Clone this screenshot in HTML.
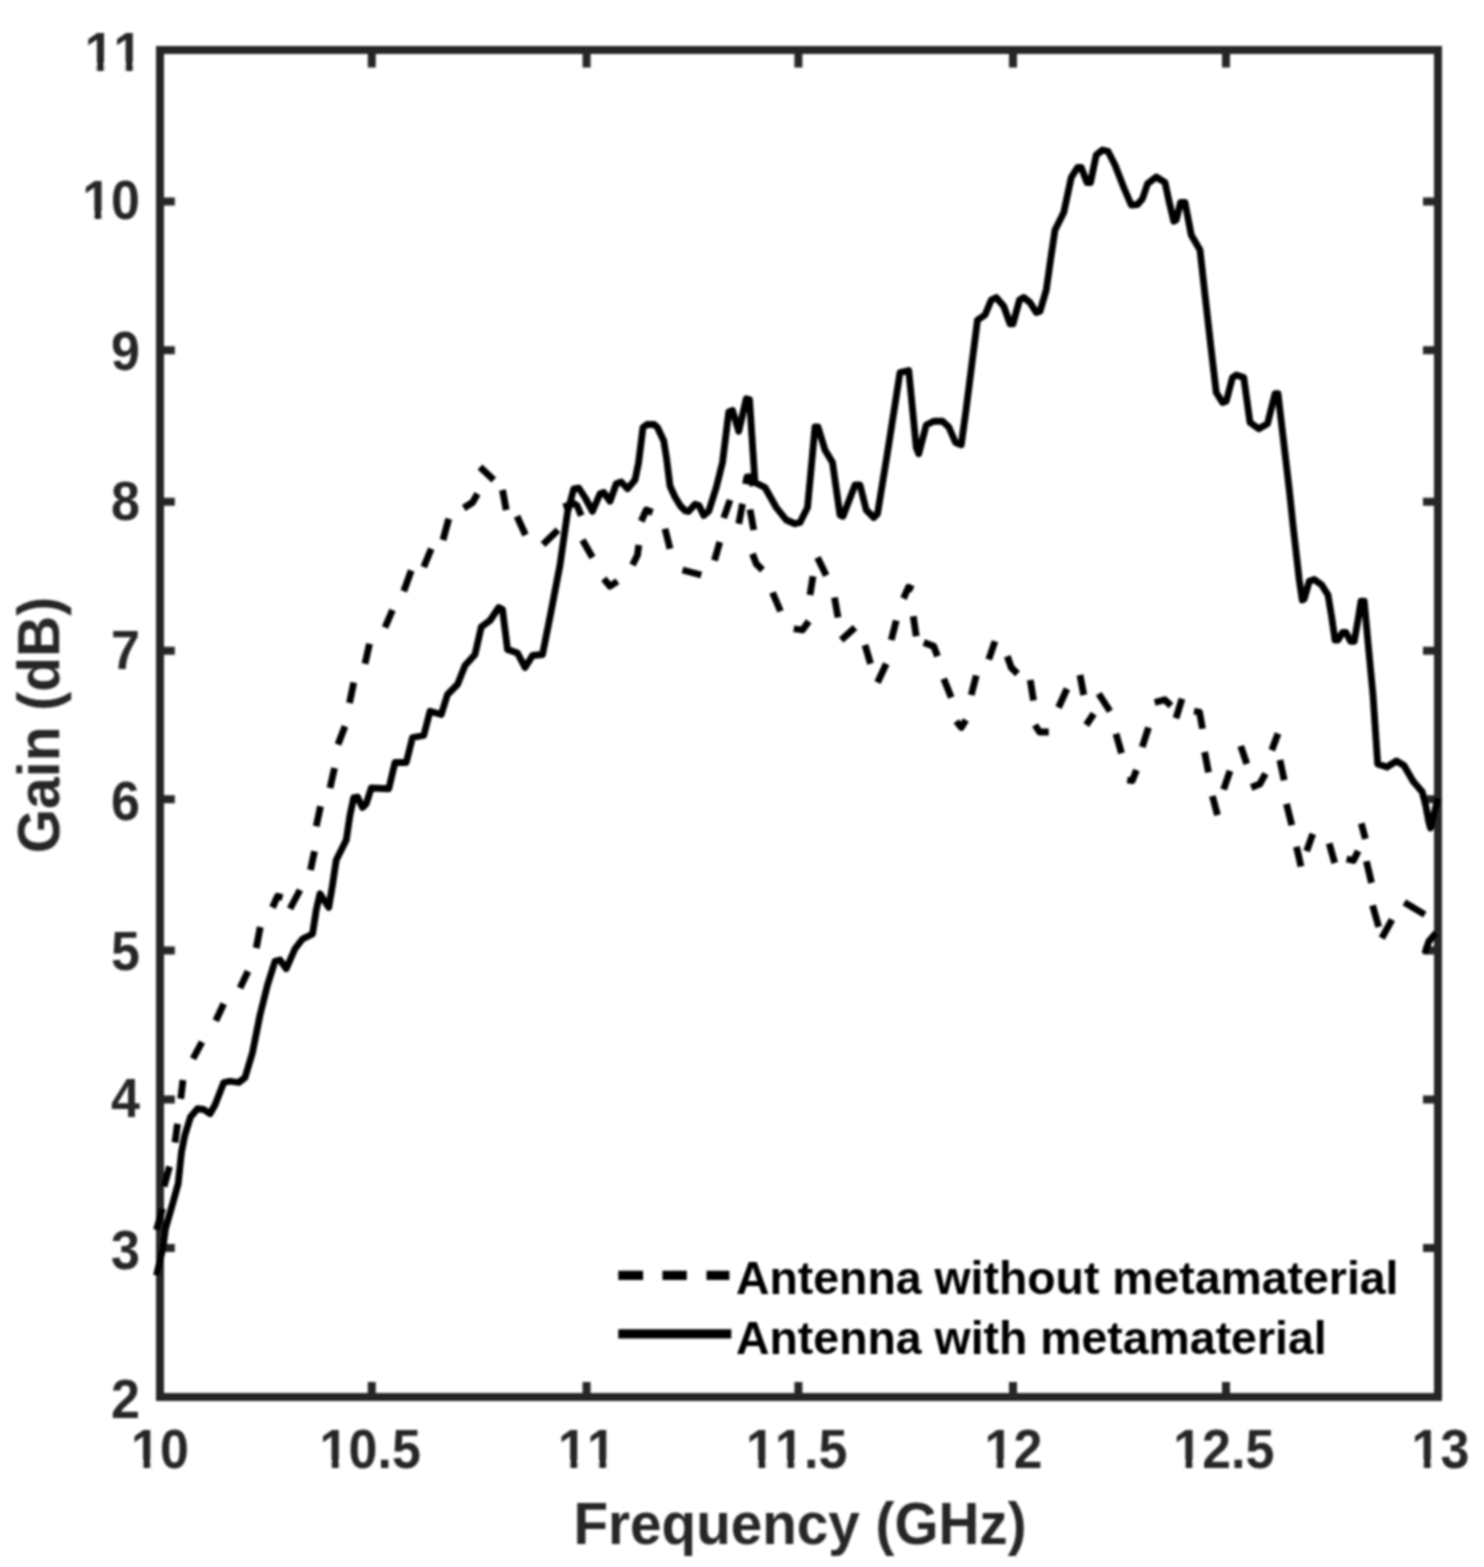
<!DOCTYPE html>
<html><head><meta charset="utf-8"><title>Gain vs Frequency</title>
<style>
html,body{margin:0;padding:0;background:#fff;}
body{width:1484px;height:1567px;overflow:hidden;}
svg{display:block;}
text{font-family:"Liberation Sans",sans-serif;font-weight:bold;font-kerning:none;}
.tk{font-size:52px;fill:#262626;}
.lb{font-size:57px;fill:#262626;}
.lg{font-size:46px;fill:#000;}
</style></head><body>
<svg width="1484" height="1567" viewBox="0 0 1484 1567">
<defs><filter id="soft" x="0" y="0" width="1484" height="1567" filterUnits="userSpaceOnUse"><feGaussianBlur stdDeviation="1.0"/></filter></defs>
<rect x="0" y="0" width="1484" height="1567" fill="#fff"/>
<g filter="url(#soft)">

<g stroke="#000" stroke-width="9.2" fill="none">
<path d="M618.3 1275.3H643.1M662.5 1275.3H686.8M706.5 1275.3H729.4"/>
<path d="M618.3 1333.8H731.3"/>
</g>
<text class="lg" x="736" y="1294" textLength="662.5" lengthAdjust="spacingAndGlyphs">Antenna without metamaterial</text>
<text class="lg" x="736" y="1354" textLength="590.6" lengthAdjust="spacingAndGlyphs">Antenna with metamaterial</text>
<g stroke="#262626" stroke-width="8" fill="none">
<rect x="160" y="50" width="1278" height="1347"/>
<path d="M160 201.6H174.8M1438 201.6H1423M160 350.25H174.8M1438 350.25H1423M160 501.75H174.8M1438 501.75H1423M160 650.75H174.8M1438 650.75H1423M160 799.25H174.8M1438 799.25H1423M160 950.5H174.8M1438 950.5H1423M160 1099.5H174.8M1438 1099.5H1423M160 1248H174.8M1438 1248H1423M371.75 1397V1382M371.75 50V67.4M586.6 1397V1382M586.6 50V67.4M798.4 1397V1382M798.4 50V67.4M1013 1397V1382M1013 50V67.4M1226 1397V1382M1226 50V67.4"/>
</g>
<g fill="none" stroke="#000" stroke-width="6.8" stroke-linejoin="round" stroke-linecap="butt">
<polyline points="156.5,1230 162.5,1208.5"/>
<polyline points="164,1186.5 169.5,1166.5"/>
<polyline points="175,1142.5 177.5,1123.75"/>
<polyline points="180.75,1098.75 183,1080"/>
<polyline points="193,1058.75 202,1042"/>
<polyline points="215.75,1020.75 223.75,1003.75"/>
<polyline points="240,988 248,971.25"/>
<polyline points="256.25,948 260.25,927"/>
<polyline points="272.5,907.5 277.5,896.25 282.5,897.5"/>
<polyline points="290,908.75 300,890"/>
<polyline points="310.5,870 314.5,851.25"/>
<polyline points="316.25,826.25 320.5,806.25"/>
<polyline points="330,788 334.5,768"/>
<polyline points="338,744.5 345,726.25"/>
<polyline points="349.5,703 353.75,682.5"/>
<polyline points="365,663.75 369.5,643.75"/>
<polyline points="385,627.5 392.5,610"/>
<polyline points="403.75,591.25 411.25,570.5"/>
<polyline points="423.75,567 431.25,548.75"/>
<polyline points="443,540 448.75,518.75"/>
<polyline points="463.75,508 472.5,502.5 477.5,493.75"/>
<polyline points="480,467 493.75,480"/>
<polyline points="502.5,490 506.25,510"/>
<polyline points="517,516.25 525.5,535"/>
<polyline points="543,544.5 558,530"/>
<polyline points="563.5,507 574,503.5 577,505.5 581.3,515.6"/>
<polyline points="582.5,540 592.5,557.5"/>
<polyline points="603.75,578.75 610,586.25 617.5,581.25"/>
<polyline points="632.5,565 637.5,555 638.75,545"/>
<polyline points="641.25,521.25 646.25,510 652.5,512.5"/>
<polyline points="665,528.75 670,548.75"/>
<polyline points="682.5,570 701.25,575"/>
<polyline points="714.5,560.5 719.75,542"/>
<polyline points="723.75,518 730,500"/>
<polyline points="738.75,523.75 742.5,503.75"/>
<polyline points="745.5,484 747,477 751,477 753,486"/>
<polyline points="750,509.5 753.75,530"/>
<polyline points="752.5,553.75 756.25,563.75 762.5,570"/>
<polyline points="772.5,592.5 780.5,611.25"/>
<polyline points="793.75,628.75 802.5,630 808.75,621.25"/>
<polyline points="810,595 813,576.25"/>
<polyline points="817.5,557.5 826.25,575.5"/>
<polyline points="834.5,597.5 838,617.5"/>
<polyline points="841.25,640 855,627.5"/>
<polyline points="865,645 870.5,663.75"/>
<polyline points="877.5,682.5 886.25,663.75"/>
<polyline points="891.25,640 896.25,620.5"/>
<polyline points="903.5,598.5 908.5,587.2 913,589.5"/>
<polyline points="913.25,616.25 916.25,636.25"/>
<polyline points="923.75,642.5 933.75,646.25 937.5,656.25"/>
<polyline points="943.75,678.75 951.25,697.5"/>
<polyline points="956.25,721.25 961.25,727.5 966,720"/>
<polyline points="971.25,695 976.25,675.5"/>
<polyline points="988.75,659.5 995,641.25"/>
<polyline points="1007.25,656.25 1011.25,667.5 1017.5,673.75"/>
<polyline points="1030.25,680 1033.5,700.5"/>
<polyline points="1035,725 1039.5,732 1048.75,732"/>
<polyline points="1058.5,707.5 1067,688.75"/>
<polyline points="1080,675 1083.75,695"/>
<polyline points="1086.25,725 1093.75,713.75"/>
<polyline points="1098.75,693.75 1110,711.25"/>
<polyline points="1116,733.75 1121.5,753.25"/>
<polyline points="1127.25,780 1132.25,780.75 1136.5,770"/>
<polyline points="1142.25,747 1148.5,727.5"/>
<polyline points="1154.75,702.5 1164.75,699.75 1171,705.75"/>
<polyline points="1176,718.25 1182,698.75"/>
<polyline points="1194,711.25 1199.5,712 1202.5,728.75"/>
<polyline points="1204.6,752 1208.5,772.3"/>
<polyline points="1212.4,796 1217.5,815.2"/>
<polyline points="1223.6,789.5 1230,770.8"/>
<polyline points="1240.7,746 1246.8,763.9"/>
<polyline points="1251.2,787.5 1259.8,784 1265.5,773.6"/>
<polyline points="1271.8,750.3 1278,733.5"/>
<polyline points="1279.9,760 1284.2,780.2"/>
<polyline points="1286.5,803.9 1291.8,825.2"/>
<polyline points="1296.5,846.7 1301,866.4"/>
<polyline points="1306.6,851.2 1312.8,833.8"/>
<polyline points="1329.2,843.3 1334.7,863"/>
<polyline points="1346.6,859 1353.5,860.5 1358.2,851.1"/>
<polyline points="1361.3,823.4 1365.4,838.8"/>
<polyline points="1366.4,861.3 1371.5,882.9"/>
<polyline points="1372.6,905.4 1378.7,926.9"/>
<polyline points="1381.8,938.2 1392,919.7"/>
<polyline points="1404.3,902.3 1424.8,914.6"/>
<polyline points="1424.8,953.5 1428.9,941.2 1436,933"/>
<polyline points="156.5,1275.5 163,1247.5 165.5,1228.5 172,1206 178.2,1183.5 181.5,1152 184.7,1135.7 190.5,1117 197.5,1108.75 203.75,1109.5 210,1113.75 215,1105 223.75,1082.5 230,1081.25 238.75,1082.5 245,1077.5 252.5,1052.5 260,1015 267.5,985 275,961.25 280,960 286.25,968.75 295,948.75 302.5,939 312.5,934 316.25,910 320,893.75 328.75,907.5 332.5,885 336.25,860 346.25,840 350,815 353.75,797.5 357.5,797 362.5,807.5 366.25,803.75 371.25,788 388.75,788.75 395,762.5 406.25,762.5 412.5,737.5 423.75,735.5 430,711.25 441.25,714.5 447.5,694.5 457.5,684.5 465,665.5 475,654.5 481.25,627 490,620.5 498.75,607.5 502.5,609.5 507.5,649.5 517.5,653 525,667.5 532.5,655.5 542.5,654.5 550,617 560,565 567.5,512.5 573.75,488.75 578.75,488 585,497.5 592.5,511.25 600,493.75 603.75,492.5 610,501.25 616.25,483.75 621.25,482 627.5,488.75 635,480 638.5,463 643,427.5 647,424.5 654,424.3 657.5,427.5 663.8,441 666.5,458 670,486 675,497 680.5,506 685.5,511 688.5,511.5 695,504.2 699,505.5 703.75,515.5 708.75,511.25 716.25,487.5 722.5,462.5 728.75,412 732.5,410.5 738.75,431.25 746.25,398.75 749.5,399.5 755,482.5 765,487.5 776.25,507.5 786.25,520 795,523.75 800,522.5 807.5,507.5 811.25,467.5 815,427 818,427 825,450 832.5,462.5 840,515 843,516.25 855,485 860,485 866.25,510 873.75,517.5 877.5,513.75 887.5,452.5 900,372.5 908.75,370.5 916.25,447.5 918.75,453.75 926.25,425 933.75,421.25 942.5,421.25 948.75,427 955.5,442.5 961.25,444.75 966.25,408.5 972.75,357 977.5,320 985,315 991.25,300 996.25,297.5 1003.75,306.25 1010,323.75 1013,323.75 1019.5,300 1023.75,297.5 1030,302.5 1036.25,312.5 1040,311.25 1046.25,290 1051.25,255 1055,230 1063.75,212.5 1071.25,177.5 1077.5,167.5 1081.25,167.5 1087,182.5 1090.5,182.5 1096.25,155 1102.5,150 1108,151.25 1115,165 1123.75,187.5 1131.25,205 1137.5,204.5 1142.5,198.75 1147.5,183.75 1156.25,177 1165,182.5 1168.75,200 1173.75,221.25 1176.25,220 1180.5,202.5 1185,202.5 1191.25,235 1200,250 1205,295 1211.25,350 1216.25,392.5 1222.5,402.5 1226.25,401.25 1232.5,377.5 1236.25,375 1243.75,377.5 1250,422.5 1258.75,428.75 1267.5,423.75 1275,393.75 1278,393.75 1283.75,442.5 1289.5,491.75 1293,525 1299.25,580 1302.25,600 1304.25,598.75 1309.25,581.25 1314.25,579.5 1321.75,585 1328,595 1331.75,617.5 1335,640 1338,640 1342.5,632.5 1346,632.5 1350.5,641.25 1354.25,641.25 1358,620 1361,601.25 1364.25,601.25 1368,642.5 1373,695 1377.7,764 1386.9,767 1396.5,761 1404,765.5 1413.3,781.5 1422.3,792 1425.8,806 1428.9,822.4 1430.5,828 1438,798"/>
</g>
<g transform="translate(142.5 70.5) scale(1 1.055)"><text class="tk" text-anchor="end">11</text><rect x="-56.26" y="-6.50" width="10.26" height="7.80" fill="#fff"/><rect x="-38.23" y="-6.50" width="9.62" height="7.80" fill="#fff"/><rect x="-27.35" y="-6.50" width="10.26" height="7.80" fill="#fff"/><rect x="-9.32" y="-6.50" width="9.62" height="7.80" fill="#fff"/></g>
<g transform="translate(140 219) scale(1 1.055)"><text class="tk" text-anchor="end">10</text><rect x="-56.26" y="-6.50" width="10.26" height="7.80" fill="#fff"/><rect x="-38.23" y="-6.50" width="9.62" height="7.80" fill="#fff"/></g>
<g transform="translate(140 369.5) scale(1 1.055)"><text class="tk" text-anchor="end">9</text></g>
<g transform="translate(140 520) scale(1 1.055)"><text class="tk" text-anchor="end">8</text></g>
<g transform="translate(140 668.75) scale(1 1.055)"><text class="tk" text-anchor="end">7</text></g>
<g transform="translate(140 819.5) scale(1 1.055)"><text class="tk" text-anchor="end">6</text></g>
<g transform="translate(140 969.5) scale(1 1.055)"><text class="tk" text-anchor="end">5</text></g>
<g transform="translate(140 1117) scale(1 1.055)"><text class="tk" text-anchor="end">4</text></g>
<g transform="translate(140 1268.5) scale(1 1.055)"><text class="tk" text-anchor="end">3</text></g>
<g transform="translate(140 1418) scale(1 1.055)"><text class="tk" text-anchor="end">2</text></g>
<g transform="translate(160 1467.8) scale(1 1.055)"><text class="tk" text-anchor="middle">10</text><rect x="-27.35" y="-6.50" width="10.26" height="7.80" fill="#fff"/><rect x="-9.32" y="-6.50" width="9.62" height="7.80" fill="#fff"/></g>
<g transform="translate(370.2 1467.8) scale(1 1.055)"><text class="tk" text-anchor="middle">10.5</text><rect x="-49.04" y="-6.50" width="10.26" height="7.80" fill="#fff"/><rect x="-31.00" y="-6.50" width="9.62" height="7.80" fill="#fff"/></g>
<g transform="translate(587 1467.8) scale(1 1.055)"><text class="tk" text-anchor="middle">11</text><rect x="-27.35" y="-6.50" width="10.26" height="7.80" fill="#fff"/><rect x="-9.32" y="-6.50" width="9.62" height="7.80" fill="#fff"/><rect x="1.56" y="-6.50" width="10.26" height="7.80" fill="#fff"/><rect x="19.59" y="-6.50" width="9.62" height="7.80" fill="#fff"/></g>
<g transform="translate(796.7 1467.8) scale(1 1.055)"><text class="tk" text-anchor="middle">11.5</text><rect x="-49.04" y="-6.50" width="10.26" height="7.80" fill="#fff"/><rect x="-31.00" y="-6.50" width="9.62" height="7.80" fill="#fff"/><rect x="-20.12" y="-6.50" width="10.26" height="7.80" fill="#fff"/><rect x="-2.09" y="-6.50" width="9.62" height="7.80" fill="#fff"/></g>
<g transform="translate(1013.4 1467.8) scale(1 1.055)"><text class="tk" text-anchor="middle">12</text><rect x="-27.35" y="-6.50" width="10.26" height="7.80" fill="#fff"/><rect x="-9.32" y="-6.50" width="9.62" height="7.80" fill="#fff"/></g>
<g transform="translate(1223.8 1467.8) scale(1 1.055)"><text class="tk" text-anchor="middle">12.5</text><rect x="-49.04" y="-6.50" width="10.26" height="7.80" fill="#fff"/><rect x="-31.00" y="-6.50" width="9.62" height="7.80" fill="#fff"/></g>
<g transform="translate(1440.5 1467.8) scale(1 1.055)"><text class="tk" text-anchor="middle">13</text><rect x="-27.35" y="-6.50" width="10.26" height="7.80" fill="#fff"/><rect x="-9.32" y="-6.50" width="9.62" height="7.80" fill="#fff"/></g>
<text class="lb" transform="translate(800 1544) scale(1 1.03)" text-anchor="middle" textLength="453" lengthAdjust="spacingAndGlyphs">Frequency (GHz)</text>
<text class="lb" transform="translate(58.75 725) rotate(-90) scale(1 1.03)" text-anchor="middle">Gain (dB)</text>
</g>
</svg>
</body></html>
